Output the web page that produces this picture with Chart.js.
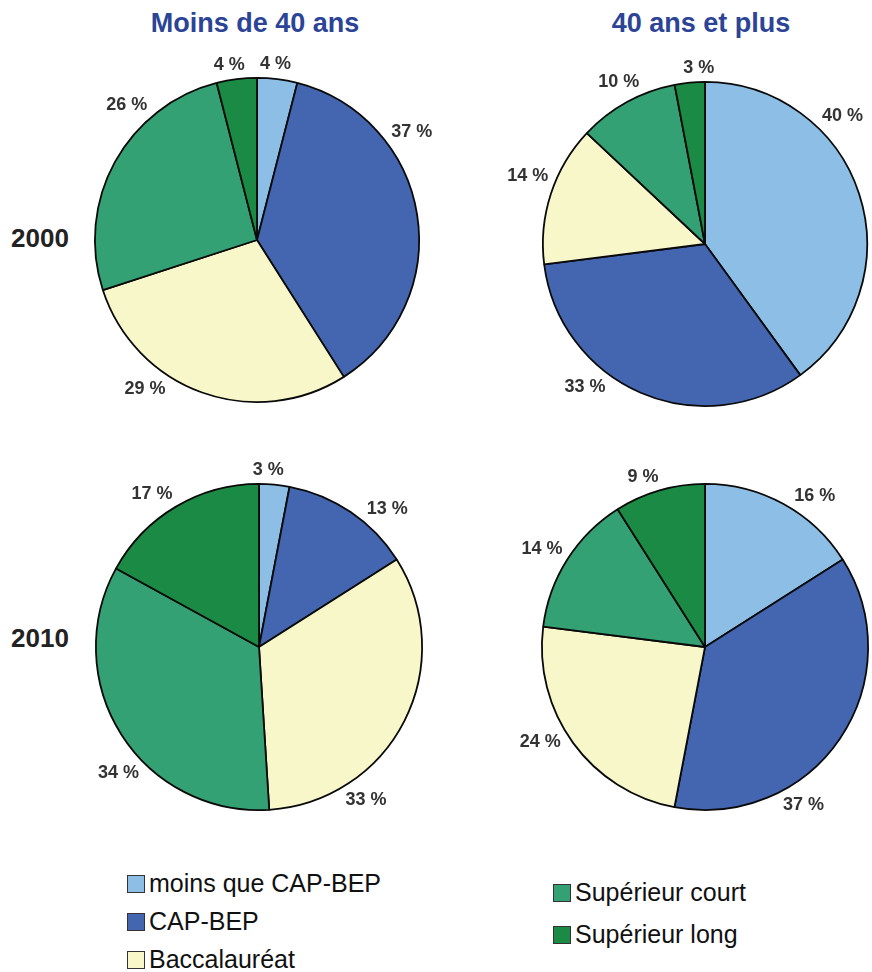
<!DOCTYPE html>
<html lang="fr">
<head>
    <meta charset="UTF-8" />
    <title>Niveau de diplôme selon l'âge, 2000 et 2010</title>
    <script src="https://cdn.jsdelivr.net/npm/chart.js@4.4.1/dist/chart.umd.min.js"></script>
    <style>
        body {
            margin: 0;
            width: 872px;
            height: 972px;
            overflow: hidden;
            background: #ffffff;
            font-family: "Liberation Sans", Arial, Helvetica, sans-serif;
            position: relative;
        }
        .title {
            position: absolute;
            top: 8px;
            width: 300px;
            text-align: center;
            font-family: "Liberation Sans Narrow", "Arial Narrow", "Liberation Sans", sans-serif;
            font-stretch: condensed;
            font-weight: bold;
            font-size: 27px;
            color: #2b4496;
        }
        .year {
            position: absolute;
            left: 11px;
            font-weight: bold;
            font-size: 26px;
            color: #222;
        }
        canvas.pie {
            position: absolute;
        }
        .legend {
            position: absolute;
            font-size: 25px;
            color: #111;
        }
        .legend div {
            display: flex;
            align-items: center;
            height: 25px;
        }
        .legend span.box {
            display: inline-block;
            width: 16px;
            height: 16px;
            border: 1px solid #333;
            margin-right: 4px;
        }
    </style>
</head>
<body>
    <div class="title" style="left:105px">Moins de 40 ans</div>
    <div class="title" style="left:551px">40 ans et plus</div>
    <div class="year" style="top:223px">2000</div>
    <div class="year" style="top:623px">2010</div>

    <div class="legend" id="legendLeft" style="left:127px; top:871px"></div>
    <div class="legend" id="legendRight" style="left:553px; top:880px"></div>

    <script>
        // === Data ===
        const categories = ["moins que CAP-BEP", "CAP-BEP", "Baccalauréat", "Supérieur court", "Supérieur long"];
        const colors = ["#8dbfe6", "#4466b0", "#f8f7c9", "#33a173", "#1a8a44"];

        const under40_2000 = [4, 37, 29, 26, 4];
        const over40_2000 = [40, 33, 14, 10, 3];
        const under40_2010 = [3, 13, 33, 34, 17];
        const over40_2010 = [16, 37, 24, 14, 9];

        // label directions (degrees clockwise from top), as placed in the original
        const angles_u40_2000 = [6, 55, 217, 316, 351];
        const angles_o40_2000 = [47, 220, 291, 332, 358];
        const angles_u40_2010 = [3, 43, 145, 228, 325];
        const angles_o40_2010 = [36, 148, 240, 301, 340];

        // === Layout ===
        const CANVAS = 440;
        const pies = [
            { values: under40_2000, angles: angles_u40_2000, cx: 257, cy: 240, r: 162 },
            { values: over40_2000, angles: angles_o40_2000, cx: 705, cy: 244, r: 162 },
            { values: under40_2010, angles: angles_u40_2010, cx: 259, cy: 647, r: 163 },
            { values: over40_2010, angles: angles_o40_2010, cx: 705, cy: 647, r: 163 }
        ];

        // draws "xx %" outside the pie along the given direction
        const outsideLabels = {
            id: "outsideLabels",
            afterDatasetsDraw(chart, args, opts) {
                const ctx = chart.ctx;
                const meta = chart.getDatasetMeta(0);
                const arc = meta.data[0];
                const cx = arc.x, cy = arc.y, r = arc.outerRadius;
                const values = chart.data.datasets[0].data;
                ctx.save();
                ctx.font = "bold 18px 'Liberation Sans', Arial, sans-serif";
                ctx.fillStyle = "#333333";
                ctx.textAlign = "center";
                ctx.textBaseline = "middle";
                values.forEach((v, i) => {
                    const a = opts.angles[i] * Math.PI / 180;
                    const s = Math.sin(a), c = Math.cos(a);
                    const text = v + " %";
                    const w = ctx.measureText(text).width;
                    const d = r + 6 + Math.abs(s) * w / 2 + Math.abs(c) * 7;
                    ctx.fillText(text, cx + s * d, cy - c * d);
                });
                ctx.restore();
            }
        };

        pies.forEach((p) => {
            const canvas = document.createElement("canvas");
            canvas.className = "pie";
            canvas.width = CANVAS;
            canvas.height = CANVAS;
            canvas.style.left = (p.cx - CANVAS / 2) + "px";
            canvas.style.top = (p.cy - CANVAS / 2) + "px";
            document.body.appendChild(canvas);

            const pad = CANVAS / 2 - p.r - 1;
            new Chart(canvas.getContext("2d"), {
                type: "pie",
                data: {
                    labels: categories,
                    datasets: [{
                        data: p.values,
                        backgroundColor: colors,
                        borderColor: "#0a0a0a",
                        borderWidth: 1.8
                    }]
                },
                options: {
                    responsive: false,
                    animation: false,
                    events: [],
                    layout: { padding: pad },
                    plugins: {
                        legend: { display: false },
                        tooltip: { enabled: false },
                        outsideLabels: { angles: p.angles }
                    }
                },
                plugins: [outsideLabels]
            });
        });

        // === Legend (two columns as in the original) ===
        function addLegend(el, idx, gap) {
            idx.forEach((i) => {
                const row = document.createElement("div");
                row.style.marginBottom = gap + "px";
                const box = document.createElement("span");
                box.className = "box";
                box.style.background = colors[i];
                row.appendChild(box);
                row.appendChild(document.createTextNode(categories[i]));
                el.appendChild(row);
            });
        }
        addLegend(document.getElementById("legendLeft"), [0, 1, 2], 13);
        addLegend(document.getElementById("legendRight"), [3, 4], 17);
    </script>
</body>
</html>
